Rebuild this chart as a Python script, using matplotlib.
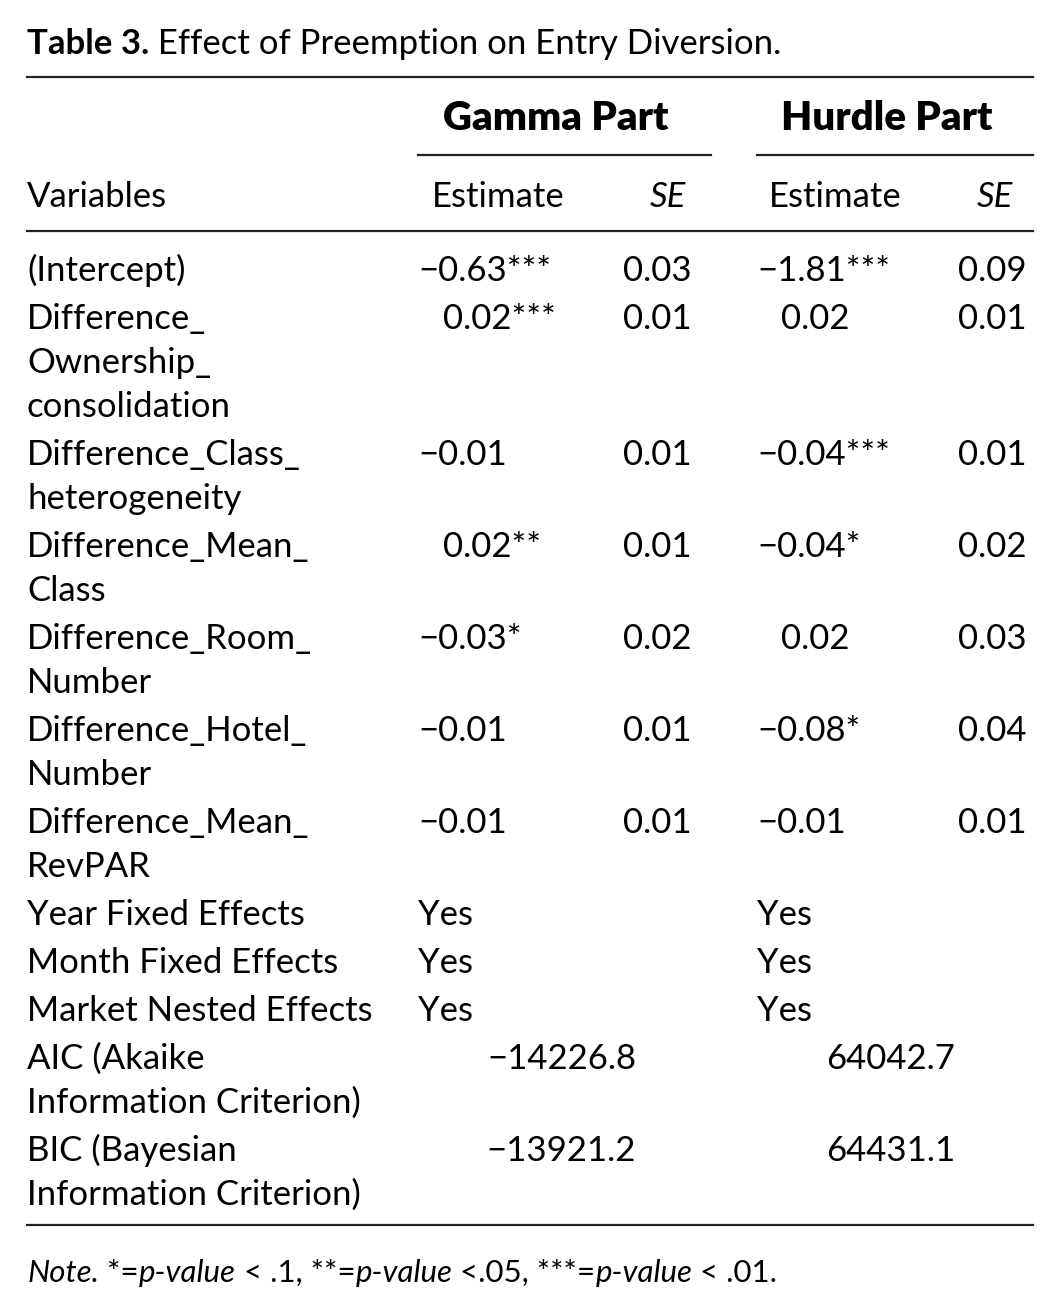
import matplotlib
matplotlib.use("Agg")
import matplotlib.pyplot as plt

plt.rcParams['font.family'] = ['Lato', 'DejaVu Sans']

# table content
title_bold = "Table 3."
title_rest = " Effect of Preemption on Entry Diversion."
groups = ["Gamma Part", "Hurdle Part"]
variables = ["(Intercept)",
             "Difference_\nOwnership_\nconsolidation",
             "Difference_Class_\nheterogeneity",
             "Difference_Mean_\nClass",
             "Difference_Room_\nNumber",
             "Difference_Hotel_\nNumber",
             "Difference_Mean_\nRevPAR"]
gamma_est = [-0.63, 0.02, -0.01, 0.02, -0.03, -0.01, -0.01]
gamma_stars = ["***", "***", "", "**", "*", "", ""]
gamma_se = [0.03, 0.01, 0.01, 0.01, 0.02, 0.01, 0.01]
hurdle_est = [-1.81, 0.02, -0.04, -0.04, 0.02, -0.08, -0.01]
hurdle_stars = ["***", "", "***", "*", "", "*", ""]
hurdle_se = [0.09, 0.01, 0.01, 0.02, 0.03, 0.04, 0.01]
effects = ["Year Fixed Effects", "Month Fixed Effects", "Market Nested Effects"]
effects_gamma = ["Yes", "Yes", "Yes"]
effects_hurdle = ["Yes", "Yes", "Yes"]
fit_names = ["AIC (Akaike\nInformation Criterion)", "BIC (Bayesian\nInformation Criterion)"]
fit_gamma = [-14226.8, -13921.2]
fit_hurdle = [64042.7, 64431.1]
note_parts = [("Note.", "italic"), (" *=", "normal"), ("p-value", "italic"),
              (" < .1, **=", "normal"), ("p-value", "italic"),
              (" <.05, ***=", "normal"), ("p-value", "italic"), (" < .01.", "normal")]

W, H = 1059, 1312
fig = plt.figure(figsize=(W / 100, H / 100), dpi=100)
ax = fig.add_axes([0, 0, 1, 1])
ax.set_xlim(0, W)
ax.set_ylim(H, 0)
ax.axis("off")

FS = 25
renderer = fig.canvas.get_renderer()


def fmt(v):
    s = f"{v:.2f}" if abs(v) < 100 else f"{v:.1f}"
    return s.replace("-", "\u2212")


def seq_text(x, y, parts, size=FS):
    # draw pieces one after another, moving x along
    for txt, style in parts:
        weight = "bold" if style == "bold" else "normal"
        st = "italic" if style == "italic" else "normal"
        t = ax.text(x, y, txt, fontsize=size, fontweight=weight, fontstyle=st,
                    va="baseline", ha="left")
        bb = t.get_window_extent(renderer=renderer)
        x += bb.width


LINE = 44
GAP = 48


def lines_text(x, y, txt):
    for k, part in enumerate(txt.split("\n")):
        ax.text(x, y + k * LINE, part, fontsize=FS, va="baseline")


# title
seq_text(27, 54, [(title_bold, "bold"), (title_rest, "normal")], size=25)

# rules
ax.plot([27, 1033], [77, 77], color="#222222", lw=1.6)
ax.plot([418, 711], [155, 155], color="#222222", lw=1.6)
ax.plot([757, 1033], [155, 155], color="#222222", lw=1.6)
ax.plot([27, 1033], [231, 231], color="#222222", lw=1.6)
ax.plot([27, 1033], [1225, 1225], color="#222222", lw=1.6)

# header
ax.text(556, 130, groups[0], fontsize=29, fontweight="heavy", ha="center", va="baseline")
ax.text(887, 130, groups[1], fontsize=29, fontweight="heavy", ha="center", va="baseline")
ax.text(27, 207, "Variables", fontsize=FS, va="baseline")
ax.text(498, 207, "Estimate", fontsize=FS, ha="center", va="baseline")
ax.text(686, 207, "SE", fontsize=FS, ha="right", va="baseline", fontstyle="italic")
ax.text(835, 207, "Estimate", fontsize=FS, ha="center", va="baseline")
ax.text(1013, 207, "SE", fontsize=FS, ha="right", va="baseline", fontstyle="italic")

y = 281
for i, name in enumerate(variables):
    lines_text(27, y, name)
    gx = 418 if gamma_est[i] < 0 else 443
    ax.text(gx, y, fmt(gamma_est[i]) + gamma_stars[i], fontsize=FS, va="baseline")
    ax.text(623, y, fmt(gamma_se[i]), fontsize=FS, va="baseline")
    hx = 757 if hurdle_est[i] < 0 else 781
    ax.text(hx, y, fmt(hurdle_est[i]) + hurdle_stars[i], fontsize=FS, va="baseline")
    ax.text(958, y, fmt(hurdle_se[i]), fontsize=FS, va="baseline")
    y += LINE * name.count("\n") + GAP

for i, name in enumerate(effects):
    ax.text(27, y, name, fontsize=FS, va="baseline")
    ax.text(418, y, effects_gamma[i], fontsize=FS, va="baseline")
    ax.text(757, y, effects_hurdle[i], fontsize=FS, va="baseline")
    y += GAP

for i, name in enumerate(fit_names):
    lines_text(27, y, name)
    ax.text(636, y, fmt(fit_gamma[i]), fontsize=FS, ha="right", va="baseline")
    ax.text(955, y, fmt(fit_hurdle[i]), fontsize=FS, ha="right", va="baseline")
    y += LINE * name.count("\n") + GAP

seq_text(27, 1282, note_parts, size=22.5)

fig.savefig("out.png", dpi=100, facecolor="white")
